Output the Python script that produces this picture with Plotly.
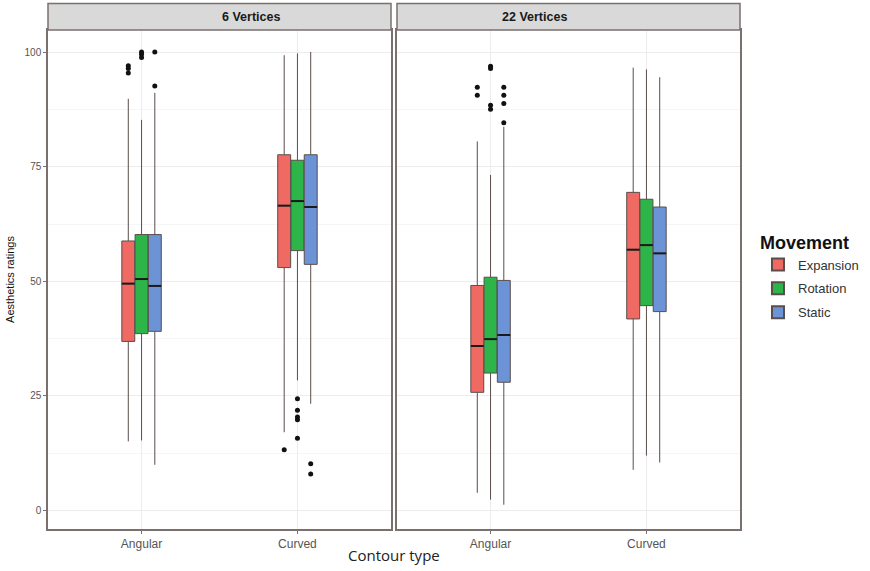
import plotly.graph_objects as go

# ---------------- data ----------------
categories = ["Angular", "Curved"]
movements = ["Expansion", "Rotation", "Static"]
panels = ["6 Vertices", "22 Vertices"]
colors = {"Expansion": "#EE6A63", "Rotation": "#2DB54A", "Static": "#6B93D6"}

# 6 Vertices: [Angular, Curved]
q1_6 = {"Expansion": [36.9, 53.0], "Rotation": [38.6, 56.7], "Static": [39.1, 53.7]}
med_6 = {"Expansion": [49.5, 66.5], "Rotation": [50.5, 67.5], "Static": [49.0, 66.2]}
q3_6 = {"Expansion": [58.8, 77.6], "Rotation": [60.2, 76.4], "Static": [60.2, 77.6]}
lo_6 = {"Expansion": [15.1, 17.1], "Rotation": [15.3, 28.4], "Static": [10.0, 23.3]}
hi_6 = {"Expansion": [89.8, 99.3], "Rotation": [85.2, 99.7], "Static": [91.1, 100.0]}
out_6 = {
    "Expansion": [[97.0, 96.4, 95.4], [13.3]],
    "Rotation": [[100.0, 99.5, 98.8], [24.4, 21.9, 20.4, 19.8, 15.8]],
    "Static": [[100.0, 92.6], [10.2, 8.0]],
}

# 22 Vertices: [Angular, Curved]
q1_22 = {"Expansion": [25.8, 41.8], "Rotation": [30.0, 44.7], "Static": [28.0, 43.4]}
med_22 = {"Expansion": [35.9, 56.9], "Rotation": [37.4, 57.9], "Static": [38.3, 56.1]}
q3_22 = {"Expansion": [49.1, 69.4], "Rotation": [50.9, 67.9], "Static": [50.2, 66.2]}
lo_22 = {"Expansion": [3.9, 8.9], "Rotation": [2.4, 12.0], "Static": [1.3, 10.5]}
hi_22 = {"Expansion": [80.5, 96.6], "Rotation": [73.2, 96.2], "Static": [83.7, 94.5]}
out_22 = {
    "Expansion": [[92.3, 90.6], []],
    "Rotation": [[96.9, 96.4, 88.4, 87.5], []],
    "Static": [[92.3, 90.6, 88.8, 84.6], []],
}

y_ticks = [0, 25, 50, 75, 100]

# ---------------- figure ----------------
panel_data = [
    (q1_6, med_6, q3_6, lo_6, hi_6, out_6),
    (q1_22, med_22, q3_22, lo_22, hi_22, out_22),
]

dodge = 0.085
box_w = 0.083
fig = go.Figure()

for p, (q1, med, q3, lo, hi, outs) in enumerate(panel_data):
    xa = "x" if p == 0 else "x2"
    ya = "y" if p == 0 else "y2"
    for m_i, m in enumerate(movements):
        pos = [c_i + 1 + (m_i - 1) * dodge for c_i in range(len(categories))]
        fig.add_trace(go.Box(
            x=pos, q1=q1[m], median=med[m], q3=q3[m],
            lowerfence=lo[m], upperfence=hi[m],
            width=box_w, whiskerwidth=0, boxpoints=False,
            fillcolor=colors[m], line=dict(color="#5a4e4c", width=1),
            name=m, legendgroup=m, showlegend=(p == 0),
            xaxis=xa, yaxis=ya, hoverinfo="skip",
        ))
        # thicker median lines
        fig.add_trace(go.Scatter(
            x=pos, y=med[m], mode="markers",
            marker=dict(symbol="line-ew", size=9.2,
                        line=dict(color="#1a1a1a", width=2)),
            showlegend=False, xaxis=xa, yaxis=ya, hoverinfo="skip",
        ))
        ox, oy = [], []
        for c_i in range(len(categories)):
            for v in outs[m][c_i]:
                ox.append(pos[c_i])
                oy.append(v)
        if ox:
            fig.add_trace(go.Scatter(
                x=ox, y=oy, mode="markers",
                marker=dict(color="#111111", size=5),
                showlegend=False, xaxis=xa, yaxis=ya, hoverinfo="skip",
            ))

grid = "#ececec"
axis_line = "#7a706e"
common_x = dict(
    range=[0.4, 2.6], tickmode="array", tickvals=[1, 2], ticktext=categories,
    showgrid=True, gridcolor=grid, gridwidth=1, zeroline=False,
    showline=True, linecolor=axis_line, linewidth=1.5, mirror=True,
    ticks="outside", ticklen=3, tickcolor=axis_line,
    tickfont=dict(family="Liberation Sans, Arial", size=12, color="#555555"),
)
common_y = dict(
    range=[-4.0, 104.8], tickmode="array", tickvals=y_ticks,
    showgrid=True, gridcolor=grid, gridwidth=1, zeroline=False,
    minor=dict(tickmode="array", tickvals=[12.5, 37.5, 62.5, 87.5],
               showgrid=True, gridcolor="#f5f5f5", gridwidth=1),
    showline=True, linecolor=axis_line, linewidth=1.5, mirror=True,
    ticks="outside", ticklen=3, tickcolor=axis_line,
    tickfont=dict(family="Liberation Sans, Arial", size=10, color="#555555"),
)

d1 = [0.0, 343 / 692]
d2 = [349 / 692, 1.0]

fig.update_layout(
    width=870, height=571,
    margin=dict(l=48, r=130, t=30, b=41.5, autoexpand=False),
    paper_bgcolor="white", plot_bgcolor="white",
    xaxis=dict(common_x, domain=d1, anchor="y"),
    xaxis2=dict(common_x, domain=d2, anchor="y2"),
    yaxis=dict(common_y, anchor="x",
               title=dict(text="Aesthetics ratings", standoff=8,
                          font=dict(family="Liberation Sans, Arial", size=11, color="#111111"))),
    yaxis2=dict(common_y, anchor="x2", matches="y", showticklabels=False, ticks=""),
    legend=dict(
        x=1.026, y=0.607, xanchor="left", yanchor="top",
        title=dict(text="<b>Movement</b>",
                   font=dict(family="Liberation Sans, Arial", size=18, color="#111111")),
        font=dict(family="Liberation Sans, Arial", size=13, color="#333333"),
        tracegroupgap=4, itemsizing="constant",
    ),
    showlegend=True,
)

# strips
strip_top = 1 + 26.5 / 499.5
for dom, label in zip([d1, d2], panels):
    fig.add_shape(type="rect", xref="paper", yref="paper",
                  x0=dom[0], x1=dom[1], y0=1.0, y1=strip_top,
                  fillcolor="#d9d9d9", line=dict(color=axis_line, width=1.5))
    fig.add_annotation(text="<b>%s</b>" % label, xref="paper", yref="paper",
                       x=(dom[0] + dom[1]) / 2, y=(1 + strip_top) / 2,
                       showarrow=False, yanchor="middle",
                       font=dict(family="Liberation Sans, Arial", size=12.5, color="#1a1a1a"))

# x axis title
fig.add_annotation(text="Contour type", xref="paper", yref="paper",
                   x=0.5, y=-0.053, yanchor="middle", showarrow=False,
                   font=dict(family="Open Sans, Liberation Sans", size=15, color="#222222"))

fig.write_html("out.html")
